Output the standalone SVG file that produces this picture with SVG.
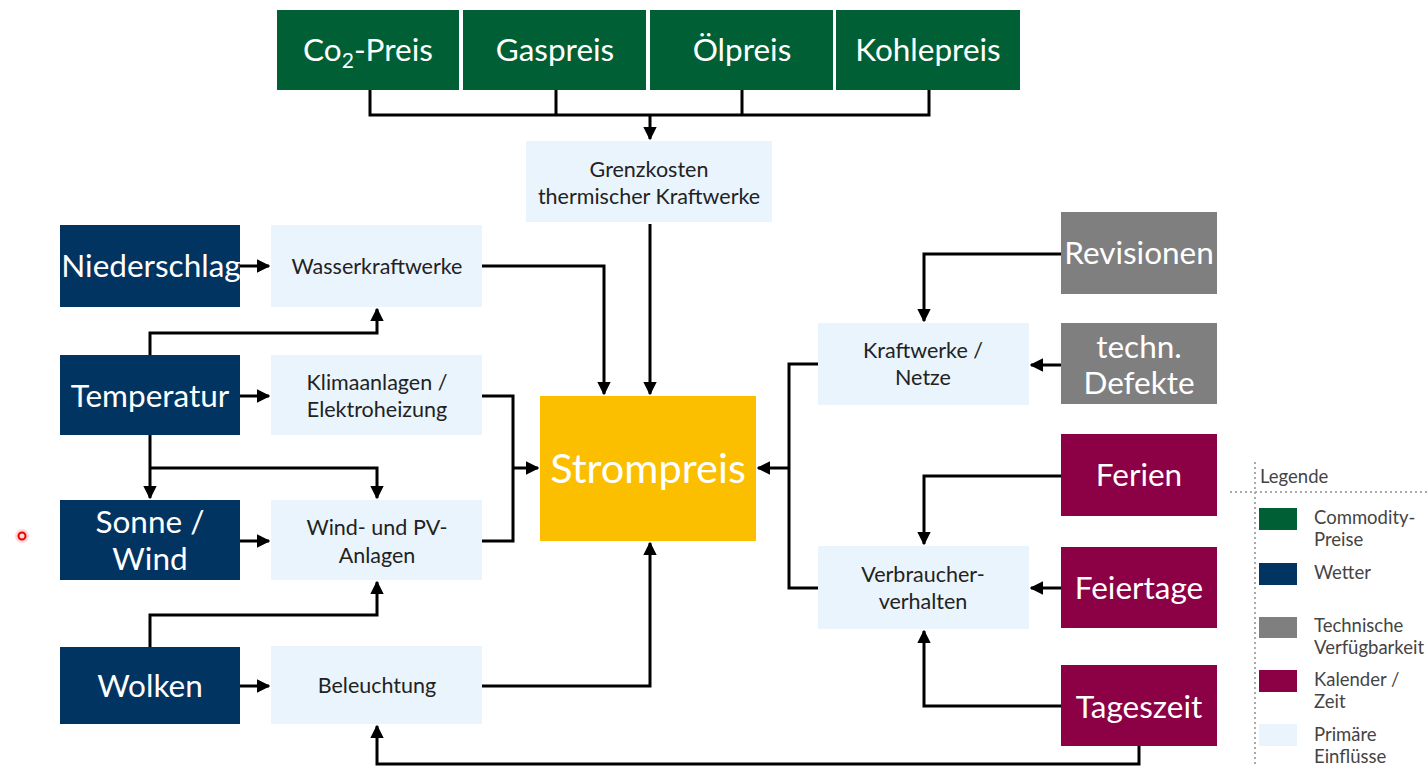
<svg xmlns="http://www.w3.org/2000/svg" width="1428" height="767" viewBox="0 0 1428 767">
<style>
.g{fill:#005F34}.b{fill:#023462}.gr{fill:#7F7F7F}.m{fill:#8C0045}.l{fill:#EAF4FC}.y{fill:#FBBF00}
text{font-family:Lato,"Open Sans","Liberation Sans",sans-serif}
.wt{fill:#fff;font-size:31.5px;text-anchor:middle}
.dt{fill:#222;font-size:21.5px;text-anchor:middle}
.lg{fill:#444;font-size:18.5px}
.c{fill:none;stroke:#000;stroke-width:3}
.a{stroke:#000;stroke-width:3;fill:none;marker-end:url(#ah)}
</style>
<defs>
<marker id="ah" viewBox="0 0 10 10" refX="9" refY="5" markerWidth="4.5" markerHeight="4.5" markerUnits="strokeWidth" orient="auto"><path d="M0,0 L10,5 L0,10 z" fill="#000"/></marker>
</defs>
<rect width="1428" height="767" fill="#fff"/>

<g id="co2"><rect class="g" x="277" y="10" width="182" height="80"/><text class="wt" x="368" y="61">Co<tspan font-size="21" dy="7">2</tspan><tspan dy="-7">-Preis</tspan></text></g>
<g id="gaspreis"><rect class="g" x="463" y="10" width="183" height="80"/><text class="wt" x="555" y="61">Gaspreis</text></g>
<g id="oelpreis"><rect class="g" x="650" y="10" width="183" height="80"/><text class="wt" x="742" y="61">Ölpreis</text></g>
<g id="kohlepreis"><rect class="g" x="836" y="10" width="184" height="80"/><text class="wt" x="928" y="61">Kohlepreis</text></g>

<g id="grenzkosten"><rect class="l" x="526" y="141" width="246" height="81"/><text class="dt" x="649" y="177">Grenzkosten</text><text class="dt" x="649" y="204">thermischer Kraftwerke</text></g>

<g id="strompreis"><rect class="y" x="540" y="396" width="216" height="145"/><text x="648" y="483" fill="#fff" font-size="41.5" text-anchor="middle">Strompreis</text></g>

<g id="niederschlag"><rect class="b" x="60" y="225" width="180" height="82"/><text class="wt" x="151" y="277">Niederschlag</text></g>
<g id="temperatur"><rect class="b" x="60" y="355" width="180" height="80"/><text class="wt" x="150" y="407">Temperatur</text></g>
<g id="sonnewind"><rect class="b" x="60" y="500" width="180" height="80"/><text class="wt" x="150" y="533">Sonne /</text><text class="wt" x="150" y="570">Wind</text></g>
<g id="wolken"><rect class="b" x="60" y="647" width="180" height="77"/><text class="wt" x="150" y="697">Wolken</text></g>

<g id="wasserkraftwerke"><rect class="l" x="271" y="225" width="211" height="82"/><text class="dt" x="377" y="274">Wasserkraftwerke</text></g>
<g id="klimaanlagen"><rect class="l" x="271" y="355" width="211" height="80"/><text class="dt" x="377" y="390">Klimaanlagen /</text><text class="dt" x="377" y="417">Elektroheizung</text></g>
<g id="windpv"><rect class="l" x="271" y="500" width="211" height="80"/><text class="dt" x="377" y="535">Wind- und PV-</text><text class="dt" x="377" y="563">Anlagen</text></g>
<g id="beleuchtung"><rect class="l" x="271" y="646" width="211" height="78"/><text class="dt" x="377" y="693">Beleuchtung</text></g>

<g id="kraftwerkenetze"><rect class="l" x="818" y="323" width="211" height="82"/><text class="dt" x="923" y="358">Kraftwerke /</text><text class="dt" x="923" y="385">Netze</text></g>
<g id="verbraucher"><rect class="l" x="818" y="546" width="211" height="83"/><text class="dt" x="923" y="582">Verbraucher-</text><text class="dt" x="923" y="609">verhalten</text></g>

<g id="revisionen"><rect class="gr" x="1061" y="212" width="156" height="82"/><text class="wt" x="1139" y="264">Revisionen</text></g>
<g id="defekte"><rect class="gr" x="1061" y="323" width="156" height="81"/><text class="wt" x="1139" y="358">techn.</text><text class="wt" x="1139" y="394">Defekte</text></g>
<g id="ferien"><rect class="m" x="1061" y="434" width="156" height="82"/><text class="wt" x="1139" y="486">Ferien</text></g>
<g id="feiertage"><rect class="m" x="1061" y="547" width="156" height="81"/><text class="wt" x="1139" y="599">Feiertage</text></g>
<g id="tageszeit"><rect class="m" x="1061" y="665" width="156" height="81"/><text class="wt" x="1139" y="718">Tageszeit</text></g>

<g id="connectors">
<path class="c" d="M370,90 V115 H929 V90 M556,90 V115 M742,90 V115"/>
<path class="a" d="M650,115 V139"/>
<path class="a" d="M650,224 V394"/>
<path class="a" d="M482,266 H604 V394"/>
<path class="c" d="M482,396 H513 V541 H482"/>
<path class="a" d="M513,468 H538"/>
<path class="a" d="M482,686 H650 V543"/>
<path class="a" d="M240,266 H269"/>
<path class="a" d="M240,396 H269"/>
<path class="a" d="M240,541 H269"/>
<path class="a" d="M240,686 H269"/>
<path class="a" d="M150,355 V333 H377 V309"/>
<path class="a" d="M150,435 V498"/>
<path class="a" d="M150,468 H377 V498"/>
<path class="a" d="M150,647 V615 H377 V582"/>
<path class="a" d="M1061,254 H924 V321"/>
<path class="a" d="M1061,365 H1031"/>
<path class="c" d="M818,364 H789 V588 H818"/>
<path class="a" d="M789,468 H758"/>
<path class="a" d="M1061,476 H924 V544"/>
<path class="a" d="M1061,588 H1031"/>
<path class="a" d="M1061,706 H924 V631"/>
<path class="a" d="M1139,746 V764 H377 V726"/>
</g>

<g id="legende">
<path d="M1255,462 V767" stroke="#aaa" stroke-width="2" stroke-dasharray="2,3"/>
<path d="M1230,492 H1428" stroke="#aaa" stroke-width="2" stroke-dasharray="2,3"/>
<text class="lg" x="1260" y="483">Legende</text>
<rect class="g" x="1259" y="508" width="38" height="22"/>
<rect class="b" x="1259" y="563" width="38" height="22"/>
<rect class="gr" x="1259" y="617" width="38" height="21"/>
<rect class="m" x="1259" y="670" width="38" height="22"/>
<rect class="l" x="1259" y="724" width="38" height="22"/>
<text class="lg" x="1314" y="524">Commodity-</text>
<text class="lg" x="1314" y="546">Preise</text>
<text class="lg" x="1314" y="579">Wetter</text>
<text class="lg" x="1314" y="632">Technische</text>
<text class="lg" x="1314" y="654">Verfügbarkeit</text>
<text class="lg" x="1314" y="686">Kalender /</text>
<text class="lg" x="1314" y="708">Zeit</text>
<text class="lg" x="1314" y="741">Primäre</text>
<text class="lg" x="1314" y="763">Einflüsse</text>
</g>
<circle cx="22" cy="536" r="7" fill="#ff0000" opacity="0.15"/>
<circle cx="22" cy="536" r="3.5" fill="none" stroke="#e00" stroke-width="2"/>
</svg>
